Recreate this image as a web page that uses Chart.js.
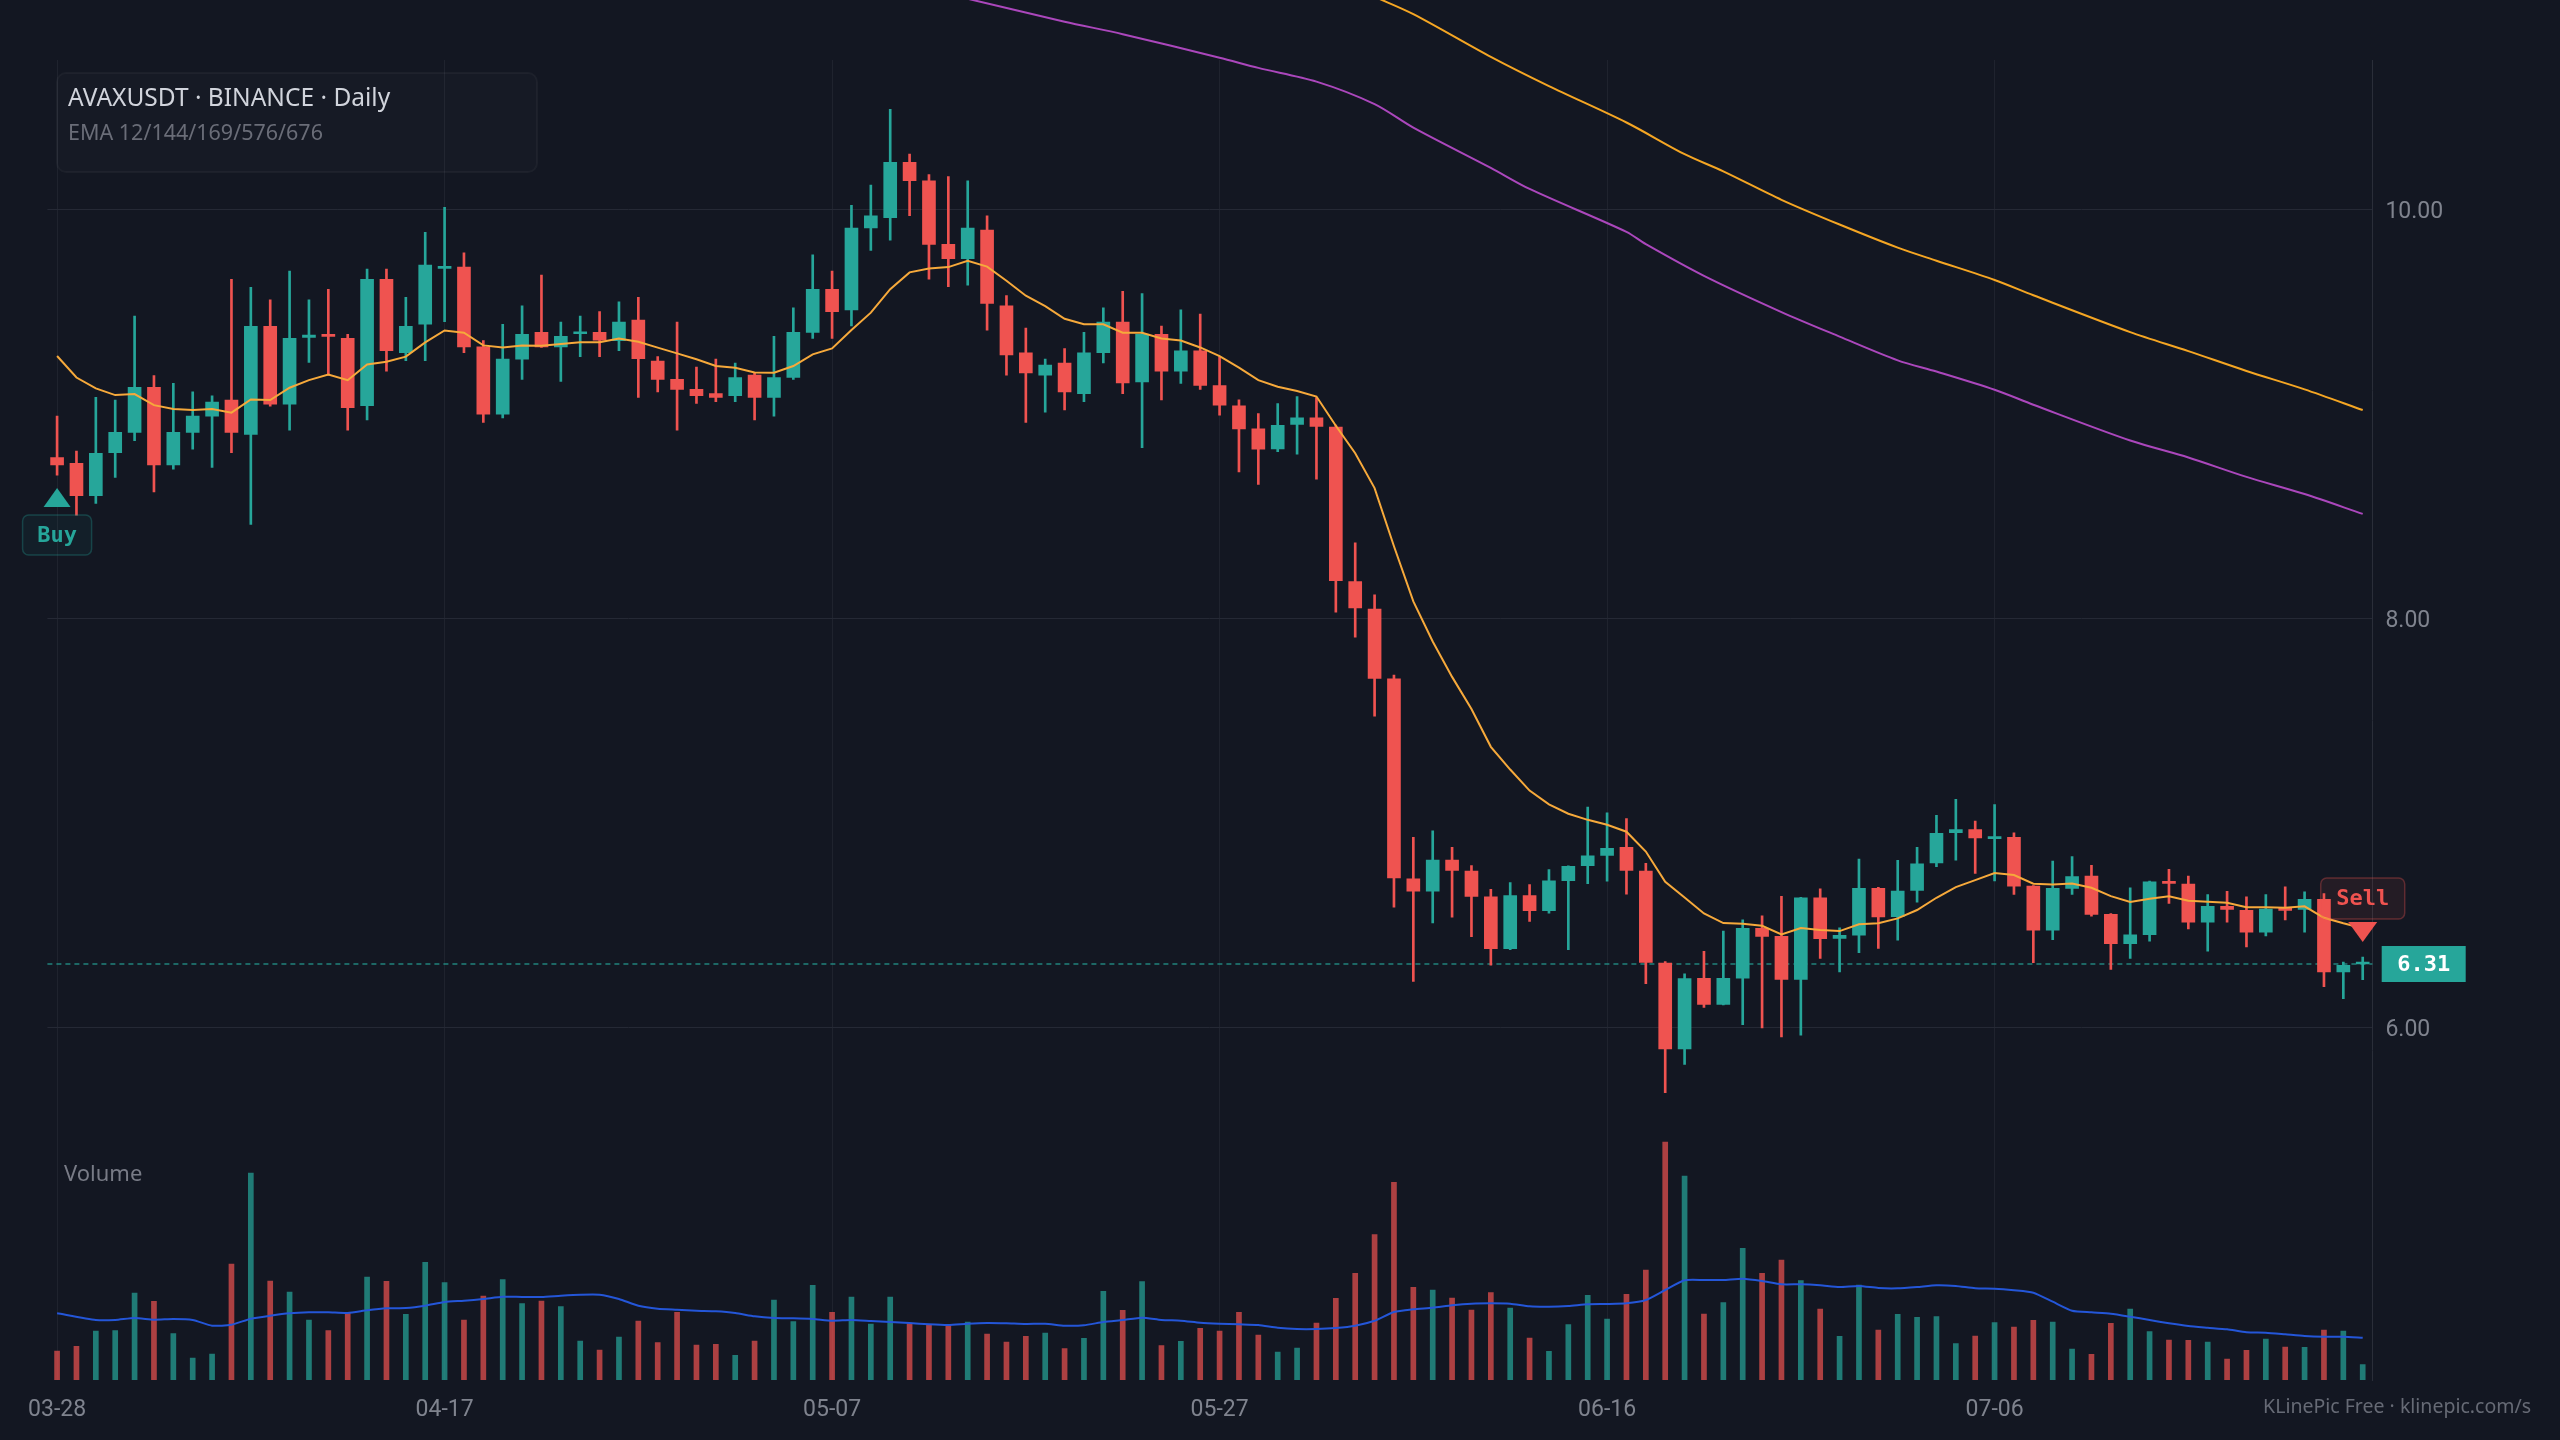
<!DOCTYPE html>
<html>
<head>
<meta charset="utf-8">
<title>AVAXUSDT Daily</title>
<script src="https://cdn.jsdelivr.net/npm/chart.js@4.4.1/dist/chart.umd.min.js"></script>
<style>
  html, body { margin: 0; padding: 0; background: #131722; }
  #wrap { width: 2560px; height: 1440px; }
</style>
</head>
<body>
<div id="wrap"><canvas id="kline" width="2560" height="1440"></canvas></div>
<script>
// daily candles 03-28 .. 07-25
const dates = [
  '03-28','03-29','03-30','03-31',
  '04-01','04-02','04-03','04-04','04-05','04-06','04-07','04-08','04-09','04-10',
  '04-11','04-12','04-13','04-14','04-15','04-16','04-17','04-18','04-19','04-20',
  '04-21','04-22','04-23','04-24','04-25','04-26','04-27','04-28','04-29','04-30',
  '05-01','05-02','05-03','05-04','05-05','05-06','05-07','05-08','05-09','05-10',
  '05-11','05-12','05-13','05-14','05-15','05-16','05-17','05-18','05-19','05-20',
  '05-21','05-22','05-23','05-24','05-25','05-26','05-27','05-28','05-29','05-30','05-31',
  '06-01','06-02','06-03','06-04','06-05','06-06','06-07','06-08','06-09','06-10',
  '06-11','06-12','06-13','06-14','06-15','06-16','06-17','06-18','06-19','06-20',
  '06-21','06-22','06-23','06-24','06-25','06-26','06-27','06-28','06-29','06-30',
  '07-01','07-02','07-03','07-04','07-05','07-06','07-07','07-08','07-09','07-10',
  '07-11','07-12','07-13','07-14','07-15','07-16','07-17','07-18','07-19','07-20',
  '07-21','07-22','07-23','07-24','07-25'
]

const open = [
  8.787,8.758,8.600,8.810,8.910,9.130,8.750,8.910,8.989,9.068,
  8.900,9.428,9.048,9.374,9.389,9.369,9.040,9.658,9.299,9.439,
  9.712,9.718,9.328,8.999,9.268,9.399,9.328,9.392,9.399,9.358,
  9.459,9.258,9.169,9.120,9.099,9.089,9.190,9.081,9.178,9.399,
  9.609,9.509,9.909,9.959,10.230,10.140,9.829,9.759,9.899,9.529,
  9.299,9.190,9.249,9.099,9.299,9.449,9.156,9.389,9.209,9.309,
  9.139,9.040,8.927,8.829,8.949,8.981,8.935,8.180,8.046,7.705,
  6.726,6.666,6.818,6.765,6.638,6.385,6.645,6.571,6.717,6.791,
  6.841,6.881,6.765,6.315,5.895,6.240,6.112,6.241,6.484,6.445,
  6.235,6.634,6.435,6.451,6.680,6.541,6.670,6.804,6.952,6.967,
  6.923,6.929,6.691,6.476,6.680,6.740,6.553,6.409,6.453,6.712,
  6.701,6.515,6.592,6.572,6.466,6.580,6.577,6.626,6.271,6.310
]
const high = [
  8.989,8.818,9.081,9.068,9.478,9.188,9.149,9.108,9.089,9.658,
  9.619,9.558,9.698,9.558,9.609,9.389,9.708,9.708,9.570,9.888,
  10.010,9.788,9.358,9.438,9.529,9.679,9.449,9.478,9.500,9.548,
  9.570,9.280,9.449,9.229,9.268,9.249,9.200,9.379,9.519,9.778,
  9.698,10.020,10.119,10.489,10.271,10.170,10.160,10.140,9.969,9.579,
  9.420,9.268,9.319,9.399,9.519,9.599,9.589,9.430,9.509,9.488,
  9.280,9.069,9.002,9.050,9.085,9.080,8.945,8.369,8.115,7.723,
  6.929,6.961,6.881,6.791,6.675,6.708,6.698,6.772,6.790,7.077,
  7.049,7.021,6.802,6.322,6.262,6.372,6.471,6.526,6.546,6.641,
  6.636,6.678,6.487,6.823,6.685,6.817,6.880,7.037,7.115,7.009,
  7.090,6.952,6.694,6.813,6.835,6.792,6.556,6.683,6.715,6.773,
  6.740,6.650,6.665,6.639,6.650,6.688,6.663,6.654,6.319,6.344
]
const low = [
  8.701,8.505,8.562,8.690,8.869,8.619,8.730,8.828,8.738,8.810,
  8.460,9.038,8.921,9.252,9.190,8.921,8.970,9.209,9.260,9.260,
  9.451,9.299,8.958,8.980,9.169,9.325,9.159,9.280,9.280,9.309,
  9.081,9.108,8.921,9.051,9.060,9.060,8.970,8.989,9.169,9.369,
  9.369,9.430,9.800,9.850,9.969,9.659,9.622,9.630,9.410,9.190,
  8.958,9.009,9.019,9.060,9.249,9.099,8.835,9.069,9.149,9.120,
  8.994,8.716,8.655,8.815,8.803,8.681,8.030,7.908,7.522,6.588,
  6.225,6.511,6.539,6.444,6.304,6.380,6.518,6.558,6.380,6.703,
  6.715,6.652,6.214,5.681,5.819,6.098,6.110,6.013,5.998,5.954,
  5.962,6.337,6.271,6.365,6.386,6.427,6.613,6.786,6.818,6.753,
  6.716,6.650,6.316,6.429,6.650,6.544,6.284,6.337,6.422,6.606,
  6.482,6.373,6.515,6.393,6.447,6.525,6.466,6.199,6.140,6.233
]
const close = [
  8.750,8.600,8.807,8.910,9.130,8.750,8.910,8.989,9.058,8.910,
  9.428,9.048,9.369,9.386,9.379,9.030,9.658,9.309,9.428,9.728,
  9.718,9.328,8.999,9.268,9.389,9.328,9.379,9.399,9.361,9.449,
  9.270,9.169,9.120,9.089,9.081,9.178,9.081,9.178,9.399,9.609,
  9.500,9.909,9.969,10.230,10.140,9.829,9.759,9.909,9.540,9.289,
  9.200,9.239,9.108,9.299,9.449,9.152,9.389,9.209,9.309,9.139,
  9.043,8.927,8.828,8.944,8.981,8.939,8.185,8.051,7.707,6.731,
  6.666,6.818,6.768,6.641,6.385,6.645,6.571,6.717,6.788,6.839,
  6.876,6.768,6.318,5.895,6.239,6.112,6.240,6.484,6.445,6.235,
  6.634,6.434,6.450,6.680,6.540,6.667,6.800,6.949,6.967,6.926,
  6.929,6.691,6.476,6.680,6.738,6.553,6.409,6.453,6.712,6.704,
  6.515,6.592,6.577,6.466,6.579,6.572,6.626,6.271,6.303,6.315
]

// EMA 12
const ema12 = [
  9.283,9.178,9.125,9.092,9.097,9.043,9.024,9.019,9.024,9.006,
  9.071,9.068,9.128,9.165,9.193,9.165,9.242,9.255,9.280,9.350,
  9.408,9.397,9.335,9.325,9.335,9.333,9.342,9.350,9.351,9.369,
  9.353,9.324,9.296,9.267,9.234,9.226,9.203,9.201,9.234,9.291,
  9.320,9.410,9.495,9.610,9.692,9.711,9.718,9.749,9.720,9.651,
  9.578,9.527,9.465,9.438,9.438,9.397,9.397,9.369,9.359,9.325,
  9.283,9.226,9.165,9.133,9.112,9.085,8.942,8.808,8.637,8.353,
  8.083,7.887,7.714,7.557,7.372,7.261,7.158,7.091,7.045,7.015,
  6.991,6.957,6.860,6.712,6.635,6.557,6.510,6.507,6.497,6.455,
  6.486,6.476,6.471,6.504,6.509,6.533,6.574,6.634,6.686,6.720,
  6.755,6.745,6.703,6.699,6.704,6.683,6.642,6.613,6.629,6.641,
  6.619,6.615,6.610,6.588,6.587,6.585,6.592,6.536,6.509,6.485
]

// the two slow EMAs, read at a few candles (they start above the visible area)
const ema144Idx = [44,47,52,55,60,62,65,68,70,74,76,81,82,85,89,92,95,97,100,102,107,110,113,116,119]
const ema144Val = [11.10,11.03,10.918,10.857,10.742,10.692,10.625,10.515,10.40,10.203,10.10,9.89,9.83,9.675,9.498,9.378,9.262,9.207,9.118,9.045,8.870,8.787,8.692,8.608,8.511]
const ema169Idx = [66,68,70,74,77,81,84,86,89,92,95,97,100,102,107,110,113,116,119]
const ema169Val = [11.126,11.04,10.955,10.746,10.603,10.425,10.27,10.186,10.047,9.926,9.813,9.749,9.655,9.580,9.400,9.307,9.210,9.120,9.019]

// volume (relative units) and its moving average
const volume = [
  29,33.7,49,49.3,87,78.7,46.3,22,26,116,
  207,99,88,60,49.3,67,103,98.7,65.7,117.7,
  97.3,60,84,100.3,76.3,79,73.3,39,30,43,
  59,37.3,67.7,35,35.7,24.7,39,80,58.3,94.7,
  67.7,83,56,83,56.3,55.7,55.3,58,46,38,
  43.7,47,31.3,41.7,88.7,69.7,98.3,34.3,38.7,51.7,
  49,67.7,45,28,32,57,81.7,106.7,145.3,197.7,
  92.7,90,82,70,87.3,72,42,28.7,55.3,84.7,
  61,85.7,110,238,204,66,77.3,131.7,106.7,120,
  99.3,71,43.7,95,50,65.7,62.7,63.3,36.3,44,
  57.3,53,59.7,58,31,25.7,56.7,71,48.3,40,
  39.7,38,21,29.7,41,33,32.7,50,49,15.3
]
const volumeMa = [
  66.7,null,60,60,62,60.3,61,60,54.3,55.3,
  61.3,64.3,66.7,67.7,67.7,67,69.7,71.7,72,74.3,
  78,79.3,81,83.3,83,83,84.3,85.3,85.3,81,
  74.3,71.3,70.3,69.3,68.7,67,63.7,62,61.7,61,
  59.3,60,59,58,57,55.7,55,56.3,57,56.7,
  56,56.3,54.3,54.7,58,60,62.3,60,59.3,57.3,
  56.3,55.7,55,52.3,51,51,52,54.3,59.3,68,
  70.7,72.3,74.7,76.3,76.7,76.3,73.7,73.3,74,75.7,
  76,76.7,80,90,99.7,100,100,101.3,99,95.7,
  95.7,94.7,93,94,92,91.7,93,94.7,94,91.7,
  91.3,89.7,87.3,78.3,69.3,67.7,66.3,63.3,60,56.7,
  54,52.3,50.7,47.7,47.3,45.7,44,43.3,43.3,42.3
]

const priceTicks = [6, 8, 10]
const lastPrice = 6.31
const buyIndex = 0
const sellIndex = 119

const UP = '#26a69a'
const DOWN = '#ef5350'
const isUp = i => close[i] >= open[i]
const candleColor = c => isUp(c.dataIndex) ? UP : DOWN
const volColor = c => isUp(c.dataIndex) ? 'rgba(38,166,154,0.7)' : 'rgba(239,83,80,0.7)'

function roundRect(ctx, x, y, w, h, r) {
    ctx.beginPath()
    ctx.moveTo(x + r, y)
    ctx.arcTo(x + w, y, x + w, y + h, r)
    ctx.arcTo(x + w, y + h, x, y + h, r)
    ctx.arcTo(x, y + h, x, y, r)
    ctx.arcTo(x, y, x + w, y, r)
    ctx.closePath()
}

const overlay = {
    id: 'overlay',
    beforeDatasetsDraw(chart) {
        const { ctx, chartArea: a, scales } = chart
        ctx.save()
        // legend panel
        roundRect(ctx, 57, 73, 480, 99, 9)
        ctx.fillStyle = 'rgba(255,255,255,0.014)'
        ctx.fill()
        ctx.strokeStyle = 'rgba(255,255,255,0.04)'
        ctx.lineWidth = 2
        ctx.stroke()
        // last price line
        const y = scales.y.getPixelForValue(lastPrice)
        ctx.setLineDash([5, 4])
        ctx.strokeStyle = 'rgba(38,166,154,0.75)'
        ctx.lineWidth = 1.5
        ctx.beginPath()
        ctx.moveTo(a.left, y)
        ctx.lineTo(a.right, y)
        ctx.stroke()
        ctx.restore()
    },
    afterDraw(chart) {
        const { ctx, chartArea: a, scales } = chart
        const x = scales.x, y = scales.y
        ctx.save()
        ctx.textBaseline = 'alphabetic'
        ctx.textAlign = 'left'
        ctx.fillStyle = '#d1d4dc'
        ctx.font = '24.5px "Noto Sans"'
        ctx.fillText('AVAXUSDT · BINANCE · Daily', 68, 106)
        ctx.fillStyle = '#6a6d78'
        ctx.font = '21.5px "Noto Sans"'
        ctx.fillText('EMA 12/144/169/576/676', 68, 140)

        ctx.textBaseline = 'middle'
        ctx.fillStyle = '#787b86'
        ctx.font = '22px "Noto Sans"'
        ctx.fillText('Volume', 64, 1175)

        ctx.textAlign = 'right'
        ctx.fillStyle = '#666a75'
        ctx.font = '19.5px "Noto Sans"'
        ctx.fillText('KLinePic Free · klinepic.com/s', 2531, 1407)

        // buy marker
        const bx = x.getPixelForValue(buyIndex)
        const by = y.getPixelForValue(low[buyIndex]) + 13
        ctx.fillStyle = UP
        ctx.beginPath()
        ctx.moveTo(bx, by)
        ctx.lineTo(bx + 13.5, by + 19)
        ctx.lineTo(bx - 13.5, by + 19)
        ctx.closePath()
        ctx.fill()
        roundRect(ctx, bx - 34.5, by + 27, 69, 40, 6)
        ctx.fillStyle = 'rgba(38,166,154,0.06)'
        ctx.fill()
        ctx.strokeStyle = 'rgba(38,166,154,0.3)'
        ctx.lineWidth = 1.5
        ctx.stroke()
        ctx.fillStyle = UP
        ctx.textAlign = 'center'
        ctx.font = 'bold 22px "DejaVu Sans Mono"'
        ctx.fillText('Buy', bx, by + 48)

        // sell marker
        const sx = x.getPixelForValue(sellIndex)
        const sy = y.getPixelForValue(high[sellIndex]) - 15
        ctx.fillStyle = DOWN
        ctx.beginPath()
        ctx.moveTo(sx, sy)
        ctx.lineTo(sx + 14.5, sy - 20)
        ctx.lineTo(sx - 14.5, sy - 20)
        ctx.closePath()
        ctx.fill()
        roundRect(ctx, sx - 42, sy - 64, 84, 41, 6)
        ctx.fillStyle = 'rgba(239,83,80,0.08)'
        ctx.fill()
        ctx.strokeStyle = 'rgba(239,83,80,0.32)'
        ctx.lineWidth = 1.5
        ctx.stroke()
        ctx.fillStyle = DOWN
        ctx.fillText('Sell', sx, sy - 43)

        // last price tag
        const py = y.getPixelForValue(lastPrice)
        ctx.fillStyle = UP
        ctx.fillRect(a.right + 9.3, py - 18, 84, 36)
        ctx.fillStyle = '#ffffff'
        ctx.font = 'bold 22px "DejaVu Sans Mono"'
        ctx.fillText(lastPrice.toFixed(2), a.right + 51.3, py + 1)
        ctx.restore()
    }
}

try {
    const ctx = document.getElementById('kline').getContext('2d')
    const myChart = new Chart(ctx, {
        type: 'bar',
        data: {
            labels: dates,
            datasets: [
                {
                    type: 'line', label: 'EMA 12', data: ema12,
                    borderColor: '#f6a93b', borderWidth: 2, pointRadius: 0, tension: 0,
                    yAxisID: 'y', order: 1
                },
                {
                    type: 'line', label: 'EMA 144',
                    data: ema144Idx.map((k, j) => ({ x: dates[k], y: ema144Val[j] })),
                    borderColor: '#ab47bc', borderWidth: 2, pointRadius: 0, tension: 0.3,
                    yAxisID: 'y', order: 1, clip: false
                },
                {
                    type: 'line', label: 'EMA 169',
                    data: ema169Idx.map((k, j) => ({ x: dates[k], y: ema169Val[j] })),
                    borderColor: '#f5a623', borderWidth: 2, pointRadius: 0, tension: 0.3,
                    yAxisID: 'y', order: 1, clip: false
                },
                {
                    label: 'wick', data: low.map((l, i) => [l, high[i]]),
                    backgroundColor: candleColor, barThickness: 2, grouped: false,
                    yAxisID: 'y', order: 4
                },
                {
                    label: 'body', data: open.map((o, i) => [o, close[i]]),
                    backgroundColor: candleColor, barThickness: 13, minBarLength: 2, grouped: false,
                    yAxisID: 'y', order: 3
                },
                {
                    label: 'Volume', data: volume,
                    backgroundColor: volColor, barThickness: 5, grouped: false,
                    yAxisID: 'vol', order: 5
                },
                {
                    type: 'line', label: 'Volume MA', data: volumeMa,
                    borderColor: '#2456d8', borderWidth: 2, pointRadius: 0, tension: 0.2, spanGaps: true,
                    yAxisID: 'vol', order: 2
                }
            ]
        },
        options: {
            responsive: false,
            animation: false,
            devicePixelRatio: 1,
            layout: { padding: { left: 47.4, top: 60, right: 0, bottom: 0 } },
            plugins: {
                legend: { display: false },
                tooltip: { enabled: false }
            },
            scales: {
                x: {
                    type: 'category',
                    offset: true,
                    grid: { color: '#1f232e', offset: false, drawTicks: false },
                    border: { display: false },
                    ticks: {
                        color: '#7f838e', font: { family: 'Roboto', size: 23 },
                        maxRotation: 0, autoSkip: false, padding: 16
                    },
                    afterBuildTicks: s => { s.ticks = s.ticks.filter(t => t.value % 20 === 0) },
                    afterFit: s => { s.height = 60 }
                },
                y: {
                    position: 'right',
                    min: 4.2758,
                    max: 10.7306,
                    grid: { color: '#252935', drawTicks: false },
                    border: { display: true, color: '#2a2e39' },
                    ticks: {
                        color: '#7f838e', font: { family: 'Roboto', size: 23 }, padding: 13,
                        labelOffset: 3,
                        callback: v => Number(v).toFixed(2)
                    },
                    afterBuildTicks: s => { s.ticks = priceTicks.map(v => ({ value: v })) },
                    afterFit: s => { s.width = 187.6 }
                },
                vol: {
                    display: false,
                    min: 0,
                    max: 1320
                }
            }
        },
        plugins: [overlay]
    })
} catch (error) {
    console.log(error)
}
</script>
</body>
</html>
